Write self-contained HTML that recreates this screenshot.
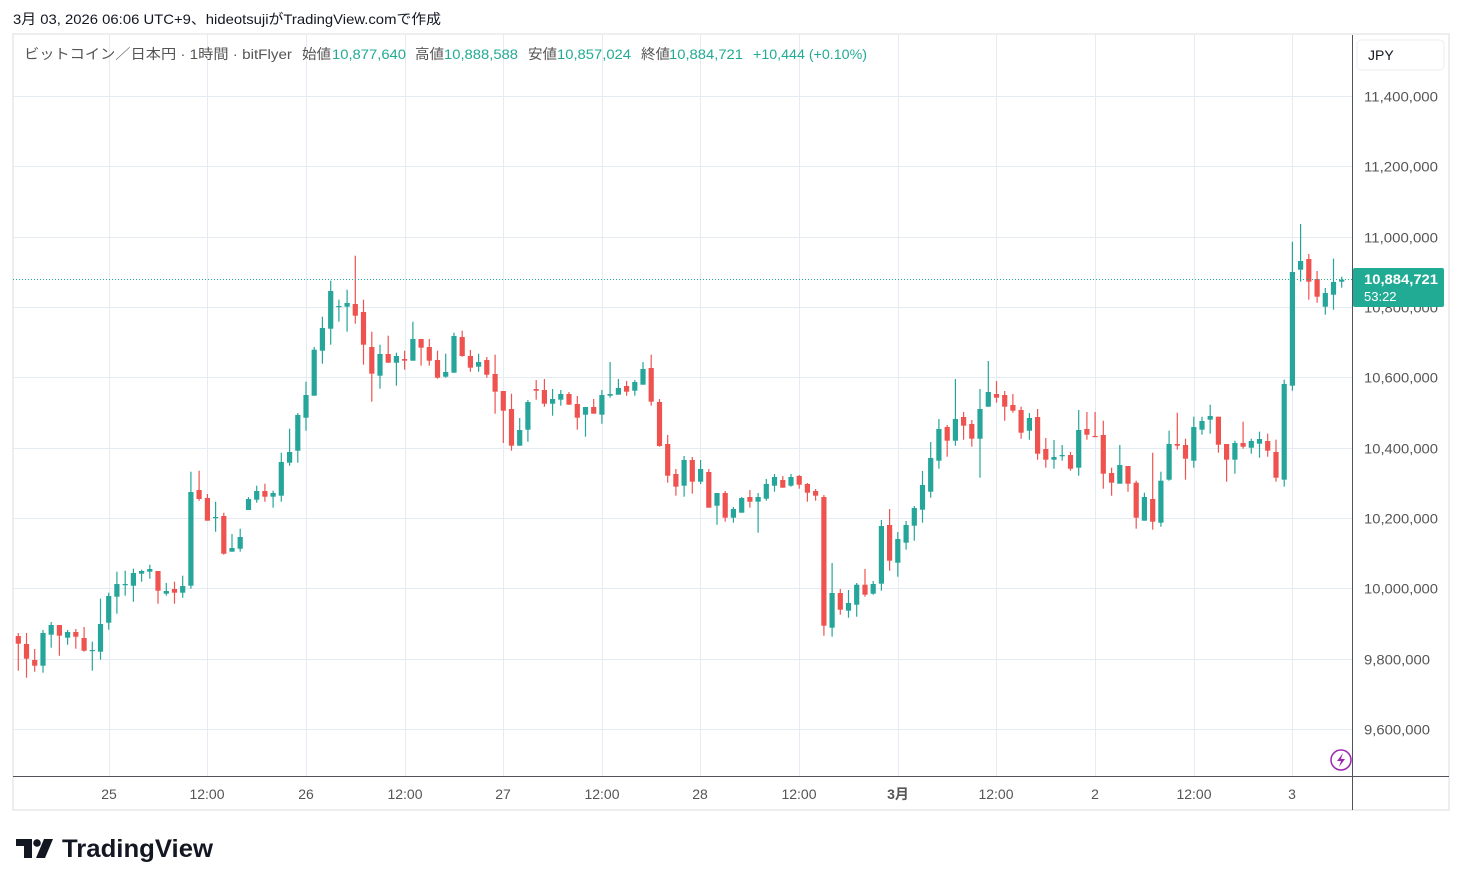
<!DOCTYPE html>
<html><head><meta charset="utf-8"><style>
body{margin:0;background:#fff;width:1462px;height:886px;overflow:hidden;font-family:"Liberation Sans","Noto Sans CJK JP",sans-serif}
</style></head><body>
<svg id="s" width="1462" height="886" xmlns="http://www.w3.org/2000/svg" style="position:absolute;left:0;top:0"></svg>
<script>
const S=document.getElementById('s');let h='';
h+='<text x="13" y="24" font-size="14" fill="#131722" textLength="428" lengthAdjust="spacingAndGlyphs" font-family="Liberation Sans, Noto Sans CJK JP, sans-serif">3月 03, 2026 06:06 UTC+9、hideotsujiがTradingView.comで作成</text>';
h+='<rect x="13" y="34" width="1436" height="776" fill="none" stroke="#eeeeee" stroke-width="2"/>';
const yP=p=>96+(11.4-p)*351.7;
const prices=[11.4,11.2,11.0,10.8,10.6,10.4,10.2,10.0,9.8,9.6];
const labs=['11,400,000','11,200,000','11,000,000','10,800,000','10,600,000','10,400,000','10,200,000','10,000,000','9,800,000','9,600,000'];
prices.forEach((p,i)=>{const y=Math.round(yP(p))+0.5;h+=`<line x1="13" x2="1352" y1="${y}" y2="${y}" stroke="#e4ebf2" stroke-width="1"/>`;
const tl=labs[i].length==10?74:66;
h+=`<text x="1364" y="${y+5}" font-size="14" fill="#555" textLength="${tl}" lengthAdjust="spacingAndGlyphs">${labs[i]}</text>`});
const vx=[109,207,306,405,503,602,700,799,898,996,1095,1194,1292];
const vl=['25','12:00','26','12:00','27','12:00','28','12:00','3月','12:00','2','12:00','3'];
vx.forEach((x,i)=>{h+=`<line x1="${x+.5}" x2="${x+.5}" y1="35" y2="776" stroke="#e4ebf2"/>`;
h+=`<text x="${x}" y="799" font-size="14" fill="#555" text-anchor="middle"${vl[i]=='3月'?' font-weight="bold" fill="#333"':''}>${vl[i]}</text>`});
const segs=[[440,[[588,611,579,692],[612,656,579,713],[660,677,627,695],[677,579,570,698],[584,555,546,623],[555,587,555,647],[593,576,570,614],[576,590,567,626],[594,632,561,635],[632,630,605,692],[635,552,476,659],[548,468,458,569],[470,432,395,521],[434,432,392,467],[437,399,386,485],[401,393,389,425],[395,387,374,416],[393,452,393,491],[461,453,429,467],[447,458,425,491],[458,438,407,473],[437,156,95,446],[150,177,92,182],[174,242,162,242],[233,231,185,275],[228,341,218,344],[335,324,282,335],[326,291,266,335]]],
[250,[[780,747,741,780],[749,723,707,758],[723,740,701,755],[740,729,722,773],[737,636,608,755],[638,606,536,647],[602,495,489,638],[503,435,395,542],[437,299,291,437],[302,234,200,341],[236,123,92,284],[170,168,149,215],[170,159,119,245],[162,197,17,221],[186,284,149,344],[291,371,245,455],[377,312,284,416],[312,338,257,338],[338,318,308,407],[327,332,302,359],[332,267,215,332],[267,293,267,347],[291,332,267,347],[330,383,302,386],[380,366,311,383],[368,258,248,368],[261,318,242,320]]],
[320,[[108,143,90,155],[140,126,101,155],[120,164,111,173],[162,215,104,281],[213,272,213,369],[267,377,221,392],[377,330,294,377],[329,246,240,365],[207,212,180,239],[210,251,177,260],[251,237,207,287],[239,222,210,257],[222,254,216,254],[252,293,228,329],[284,261,261,350],[261,281,237,281],[284,225,210,311],[227,222,126,233],[224,204,177,224],[198,215,183,227],[212,186,180,227],[194,147,126,194],[144,245,104,257],[246,378,237,380],[372,467,345,488],[462,500,447,527],[497,420,408,530]]],
[420,[[120,185,111,221],[185,147,120,192],[156,263,147,263],[257,219,219,314],[219,293,213,305],[293,267,261,308],[278,234,231,278],[231,245,210,263],[245,231,219,338],[236,192,177,242],[197,171,162,215],[180,203,168,203],[197,171,162,200],[168,194,165,206],[192,218,189,245],[213,227,207,242],[231,617,225,647],[623,519,429,650],[519,569,507,584],[572,549,510,593],[554,494,489,590],[494,524,447,530],[521,492,483,524],[491,318,300,512],[315,422,267,452],[428,357,336,470]]],
[350,[[578,525,513,599],[527,474,468,572],[479,405,363,518],[425,324,276,443],[332,237,207,356],[231,272,225,320],[272,207,87,287],[201,227,186,269],[222,266,210,290],[266,177,117,383],[170,126,33,170],[132,143,93,158],[135,170,123,212],[165,182,132,188],[180,248,170,266],[242,204,189,269],[201,311,177,329],[297,329,264,353],[329,321,270,356],[319,315,285,332],[315,356,306,362],[353,240,180,377],[237,254,186,269],[258,260,186,260],[255,371,212,416],[369,398,353,437],[401,345,285,401]]],
[215,[[753,806,753,830],[803,908,797,941],[917,846,833,917],[852,920,713,944],[923,797,770,935],[794,687,647,797],[687,692,593,704],[690,731,671,794],[737,636,605,758],[644,618,605,659],[614,603,569,656],[605,689,605,713],[687,734,687,800],[734,684,677,776],[684,695,620,701],[698,678,671,716],[686,672,650,728],[678,707,656,725],[711,788,674,800],[794,507,494,815],[512,171,80,527],[164,138,27,200],[132,200,117,254],[192,245,168,263],[275,234,219,299],[239,201,131,284],[200,194,185,218]]]];
let i=0;
segs.forEach(([b,arr])=>arr.forEach(([o,c,hi,lo])=>{
 const x=18.3+i*8.22;i++;
 const O=b+o/3,C=b+c/3,H=b+hi/3,L=b+lo/3;
 const col=C>O+0.2?'#ef5350':'#26a69a';
 const t=Math.min(O,C),bh=Math.max(Math.abs(C-O),1.2);
 h+=`<line x1="${x.toFixed(1)}" x2="${x.toFixed(1)}" y1="${H.toFixed(1)}" y2="${L.toFixed(1)}" stroke="${col}" stroke-width="1.2"/>`;
 h+=`<rect x="${(x-2.6).toFixed(1)}" y="${t.toFixed(1)}" width="5.2" height="${bh.toFixed(1)}" fill="${col}"/>`;
}));
h+='<line x1="13" x2="1352" y1="279.5" y2="279.5" stroke="#22ab94" stroke-dasharray="1,2"/>';
h+='<line x1="13" x2="1449" y1="776.5" y2="776.5" stroke="#50535e"/>';
h+='<line x1="1352.5" x2="1352.5" y1="35" y2="810" stroke="#50535e"/>';
h+='<rect x="1357" y="40" width="87" height="30" rx="4" fill="#fff" stroke="#eeeeee"/>';
h+='<text x="1368" y="60" font-size="14" fill="#131722">JPY</text>';
h+='<rect x="1353" y="268" width="91" height="39" rx="2" fill="#22ab94"/>';
h+='<text x="1364" y="284" font-size="14" font-weight="bold" fill="#fff" textLength="74" lengthAdjust="spacingAndGlyphs">10,884,721</text>';
h+='<text x="1364" y="301" font-size="13" fill="#fff">53:22</text>';
const L=(x,t,c,w)=>`<text x="${x}" y="59" font-size="14" fill="${c}" textLength="${w}" lengthAdjust="spacingAndGlyphs" font-family="Liberation Sans, Noto Sans CJK JP, sans-serif">${t}</text>`;
h+=L(24,'ビットコイン／日本円 · 1時間 · bitFlyer','#555',268);
h+=L(302,'始値','#555',29)+L(332,'10,877,640','#22ab94',74);
h+=L(415,'高値','#555',29)+L(444,'10,888,588','#22ab94',74);
h+=L(528,'安値','#555',29)+L(557,'10,857,024','#22ab94',74);
h+=L(641,'終値','#555',29)+L(669,'10,884,721','#22ab94',74);
h+=L(753,'+10,444 (+0.10%)','#22ab94',114);
h+='<circle cx="1341" cy="760" r="10" fill="#fff" stroke="#9c27b0" stroke-width="1.5"/><path d="M1343 753 L1337 761 L1341 761 L1339 767 L1345 759 L1341 759 Z" fill="#9c27b0"/>';
h+='<path d="M16 839 H32 V858 H24 V846 H16 Z" fill="#131722"/><circle cx="37" cy="843" r="3.8" fill="#131722"/><path d="M44 839 H53 L45 858 H36 Z" fill="#131722"/>';
h+='<text x="62" y="857" font-size="25" font-weight="bold" fill="#131722" textLength="151" lengthAdjust="spacingAndGlyphs">TradingView</text>';
S.innerHTML=h;
</script>
</body></html>
